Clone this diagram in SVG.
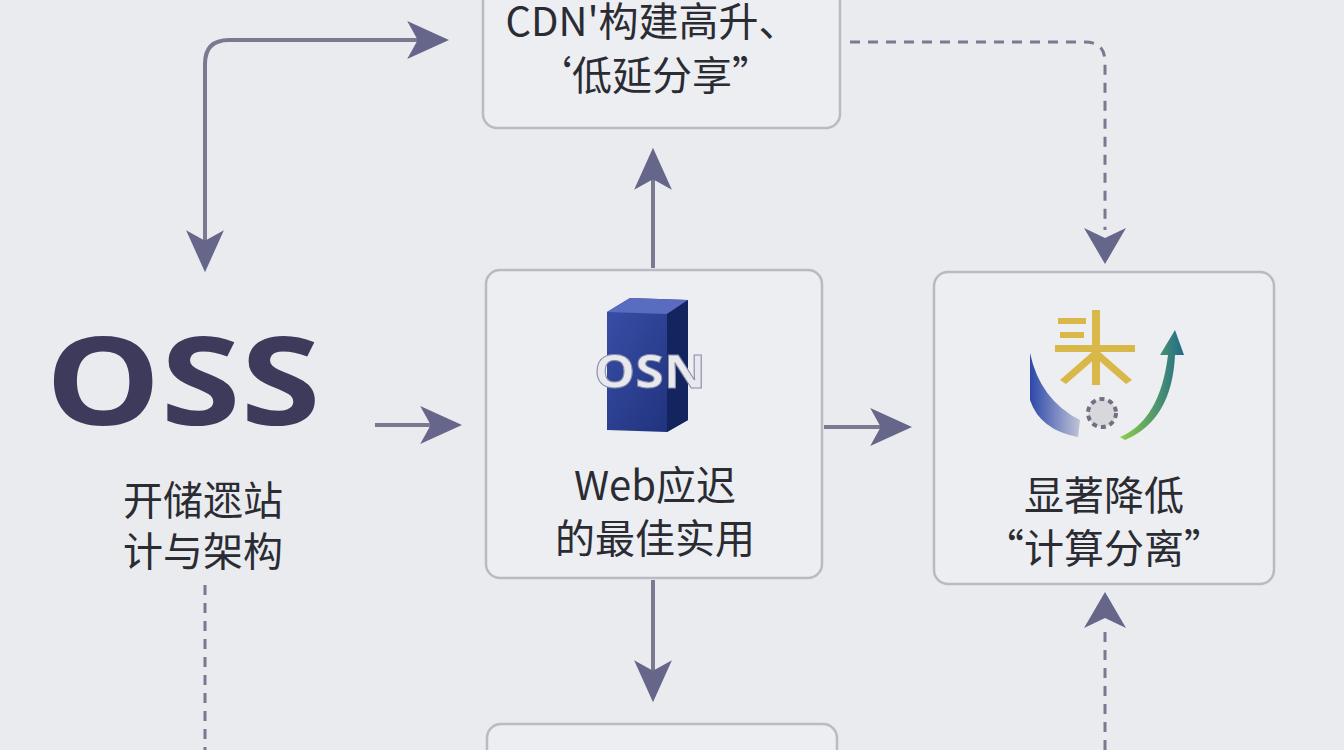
<svg xmlns="http://www.w3.org/2000/svg" width="1344" height="750" viewBox="0 0 1344 750">
<defs>
<style>
.box{fill:#eceef1;stroke:#b9bac2;stroke-width:2.5}
.t{font-family:"Noto Sans CJK SC","Noto Sans",sans-serif;fill:#2b2b33;font-size:40px;text-anchor:middle}
.c{stroke:#7a7990;stroke-width:4;fill:none}
.d{stroke:#7a7990;stroke-width:3;fill:none;stroke-dasharray:10 8}
</style>
<marker id="b" viewBox="0 0 10 10" refX="9" refY="5" markerWidth="42" markerHeight="42" markerUnits="userSpaceOnUse" orient="auto"><path d="M0,0.5 L10,5 L0,9.5 L2.5,5 Z" fill="#66658a"/></marker>
<linearGradient id="g1" x1="0" y1="0" x2="1" y2="1"><stop offset="0" stop-color="#3a4fa8"/><stop offset="1" stop-color="#1d2f78"/></linearGradient>
<linearGradient id="g2" x1="0" y1="0" x2="1" y2="0"><stop offset="0" stop-color="#2d48a8"/><stop offset="1" stop-color="#c0c4d8"/></linearGradient>
<linearGradient id="g3" x1="0" y1="0" x2="1" y2="0"><stop offset="0" stop-color="#8fcf4a"/><stop offset="1" stop-color="#1f6a8a"/></linearGradient>
</defs>
<rect width="1344" height="750" fill="#e9ebee"/>
<g id="connectors">
<path class="c" d="M205,240 V64 Q205,40 229,40 H445" marker-end="url(#b)"/>
<path class="c" d="M205,200 V268" marker-end="url(#b)"/>
<path class="c" d="M653,268 V152" marker-end="url(#b)"/>
<path class="c" d="M653,580 V698" marker-end="url(#b)"/>
<path class="c" d="M375,425 H458" marker-end="url(#b)"/>
<path class="c" d="M824,427 H908" marker-end="url(#b)"/>
<path class="d" d="M850,42 H1085 Q1105,42 1105,62 V230"/>
<path d="M1084,228 L1105,264 L1126,228 L1105,238 Z" fill="#66658a"/>
<path class="d" d="M1105,750 V630"/>
<path d="M1084,628 L1105,592 L1126,628 L1105,618 Z" fill="#66658a"/>
<path class="d" d="M205,585 V750"/>
</g>
<g id="cdn">
<rect class="box" x="483" y="-12" width="357" height="140" rx="14"/>
<text class="t" x="652" y="36">CDN'构建高升、</text>
<text class="t" x="652" y="90">‘低延分享”</text>
</g>
<g id="oss">
<text x="183" y="425" font-family="'Open Sans','Noto Sans',sans-serif" font-weight="bold" font-size="122" fill="#3e3a5c" textLength="275" lengthAdjust="spacingAndGlyphs" text-anchor="middle">OSS</text>
<text class="t" x="203" y="515">开储遝站</text>
<text class="t" x="203" y="566">计与架构</text>
</g>
<g id="web">
<rect class="box" x="486" y="270" width="336" height="308" rx="14"/>
<path d="M607,312 L630,298 L688,300 L688,420 L667,432 L607,430 Z" fill="url(#g1)"/>
<path d="M607,312 L630,298 L688,300 L667,314 Z" fill="#5a6cc0"/>
<path d="M667,314 L688,300 L688,420 L667,432 Z" fill="#14245f"/>
<text x="650" y="388" font-family="'Open Sans',sans-serif" font-weight="bold" font-size="46" fill="#e8e8ee" textLength="112" lengthAdjust="spacingAndGlyphs" text-anchor="middle" stroke="#8890a8" stroke-width="1">OSN</text>
<text class="t" x="655" y="500">Web应迟</text>
<text class="t" x="655" y="553">的最佳实用</text>
</g>
<g id="right">
<rect class="box" x="934" y="272" width="340" height="312" rx="14"/>
<path d="M1030,353 Q1040,400 1080,420 L1078,437 Q1040,430 1030,400 Z" fill="url(#g2)"/>
<path d="M1120,437 Q1160,420 1168,355 L1160,355 L1175,330 L1184,355 L1175,355 Q1172,420 1125,440 Z" fill="url(#g3)"/>
<circle cx="1102" cy="413" r="14" fill="#d8d8dc" stroke="#707080" stroke-width="4" stroke-dasharray="5 4"/>
<g fill="#d8b848">
<rect x="1055" y="345" width="80" height="7"/>
<rect x="1092" y="310" width="8" height="75"/>
<rect x="1058" y="318" width="28" height="6"/>
<rect x="1060" y="332" width="24" height="6"/>
<path d="M1092,352 L1060,380 L1066,384 L1096,358 Z"/>
<path d="M1100,352 L1132,380 L1126,384 L1096,358 Z"/>
</g>
<text class="t" x="1104" y="510">显著降低</text>
<text class="t" x="1104" y="563">“计算分离”</text>
</g>
<g id="bottom">
<rect class="box" x="487" y="724" width="350" height="60" rx="14"/>
</g>
</svg>
